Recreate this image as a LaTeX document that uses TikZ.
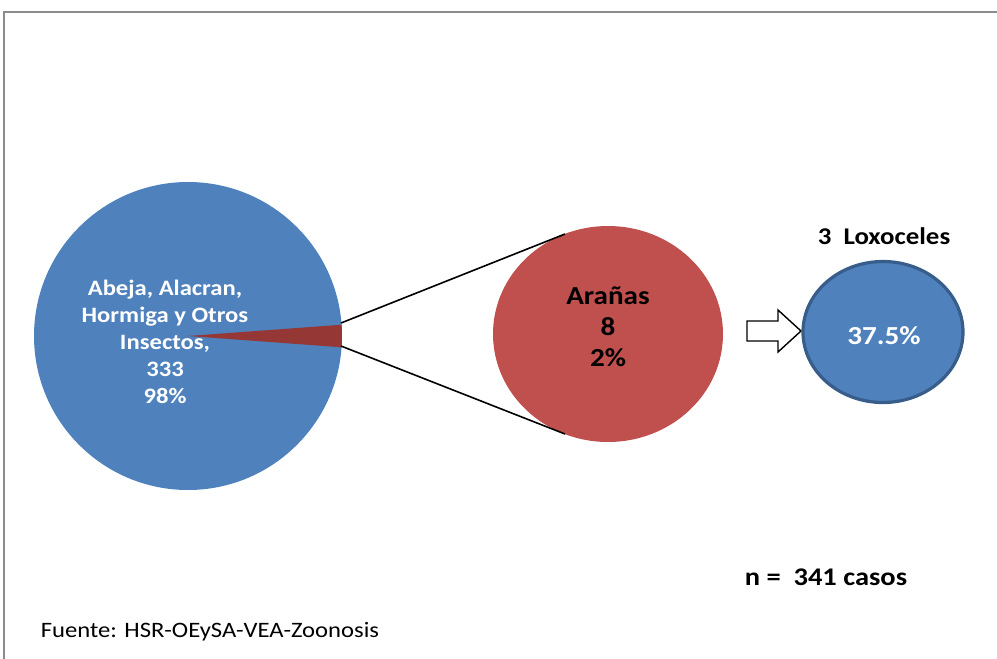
\documentclass[tikz,border=0pt]{standalone}
\usepackage{fontspec}
\setmainfont[FakeStretch=1.12]{Carlito}
\usetikzlibrary{shapes.geometric}
\definecolor{pieblue}{HTML}{4F81BD}
\definecolor{slicered}{HTML}{953735}
\definecolor{circred}{HTML}{C0504D}
\definecolor{darkblue}{HTML}{385D8A}
\definecolor{framegray}{HTML}{8C8C8C}
\tikzset{
  boldtxt/.style 2 args={font=\bfseries\fontsize{#1}{#2}\selectfont, align=center, inner sep=0pt},
  conn/.style={draw=black, line width=1.6pt},
}
\begin{document}
\begin{tikzpicture}[x=1pt,y=-1pt]
\useasboundingbox (0,0) rectangle (997,659);
% frame
\draw[framegray, line width=2pt] (4,665) -- (4,12) -- (1003,12);
% pie
\coordinate (pc) at (188,336);
\fill[pieblue] (pc) circle (154);
\fill[slicered] (pc) -- ++(4.2:154) arc[start angle=4.2, end angle=-4.2, radius=154] -- cycle;
\node[boldtxt={22}{27}, text=white] (pietxt) at (165,342) {Abeja, Alacran,\\Hormiga y Otros\\Insectos,\\333\\98\%};
% red circle
\node[ellipse, fill=circred, minimum width=230pt, minimum height=216pt, inner sep=0pt] (aranas) at (608,334) {};
\node[boldtxt={26}{31}, text=black] (aranastxt) at (608,327) {Arañas\\8\\2\%};
\coordinate (s1) at (341,323);
\coordinate (s2) at (341,346);
\coordinate (c1) at (565,234);
\coordinate (c2) at (565,434);
\draw[conn] (s1) -- (c1);
\draw[conn] (s2) -- (c2);
% arrow
\draw[black, line width=1.4pt, fill=white] (747,321) -- (778,321) -- (778,310) -- (801,331) -- (778,352) -- (778,341) -- (747,341) -- cycle;
% blue circle
\node[ellipse, fill=pieblue, draw=darkblue, line width=3.2pt, minimum width=160pt, minimum height=141pt, inner sep=0pt] (lox) at (883,332) {};
\node[boldtxt={26}{31}, text=white] (loxtxt) at (884,336) {37.5\%};
\node[boldtxt={24}{28}, text=black] (loxtitle) at (884,236) {3\ \ Loxoceles};
% footer
\node[boldtxt={25.4}{30}, text=black] (ncasos) at (826,577) {n =\ \ 341 casos};
\node[font=\fontsize{22}{26}\selectfont, inner sep=0pt] (fuente) at (210,632) {Fuente: HSR-OEySA-VEA-Zoonosis};
\end{tikzpicture}
\end{document}
